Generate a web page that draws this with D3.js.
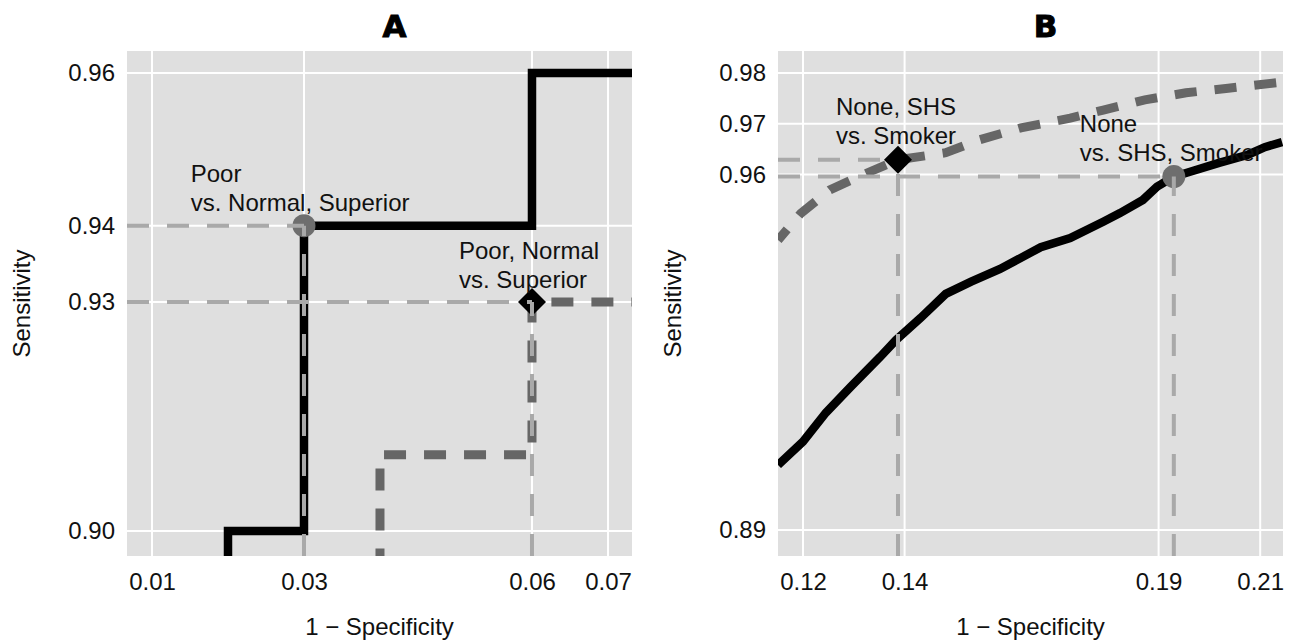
<!DOCTYPE html>
<html>
<head>
<meta charset="utf-8">
<script src="https://cdn.jsdelivr.net/npm/d3@7"></script>
<style>
  body { margin: 0; background: #fff; }
  svg { display: block; }
  text { font-family: "Liberation Sans", Arial, sans-serif; fill: #111; }
</style>
</head>
<body>
<svg id="chart"></svg>
<script>
// ---- data: panel A (perceived oral health) ----
const aTicksX = [0.01, 0.03, 0.06, 0.07];
const aTicksY = [0.90, 0.93, 0.94, 0.96];
const aSolidFpr = [0.02, 0.02, 0.03, 0.03, 0.06, 0.06, 0.08];
const aSolidTpr = [0.88, 0.90, 0.90, 0.94, 0.94, 0.96, 0.96];
const aDashFpr = [0.04, 0.04, 0.06, 0.06, 0.08];
const aDashTpr = [0.88, 0.91, 0.91, 0.93, 0.93];
const aCircle = [0.03, 0.94];
const aDiamond = [0.06, 0.93];
const aLabelText = [["Poor", "vs. Normal, Superior"], ["Poor, Normal", "vs. Superior"]];
const aLabelPos = [[0.0151, 0.9457], [0.0504, 0.9357]];

// ---- data: panel B (smoking status) ----
const bTicksX = [0.12, 0.14, 0.19, 0.21];
const bTicksY = [0.89, 0.96, 0.97, 0.98];
const bSolidFpr = [0.1151, 0.1200, 0.1245, 0.1294, 0.1352, 0.1383, 0.1432, 0.1481, 0.1531, 0.1588,
  0.1668, 0.1726, 0.1791, 0.1824, 0.1869, 0.1897, 0.1930, 0.1954, 0.2019, 0.2076, 0.2109, 0.2143];
const bSolidTpr = [0.9028, 0.9074, 0.9131, 0.9182, 0.9241, 0.9274, 0.9318, 0.9365, 0.9389, 0.9414,
  0.9457, 0.9475, 0.9507, 0.9524, 0.9550, 0.9576, 0.9596, 0.9603, 0.9623, 0.9639, 0.9654, 0.9664];
const bDashFpr = [0.1151, 0.1196, 0.1253, 0.1326, 0.1387, 0.1481, 0.1546, 0.1629, 0.1726, 0.1791,
  0.1873, 0.1954, 0.2037, 0.2143];
const bDashTpr = [0.9471, 0.9524, 0.9570, 0.9603, 0.9629, 0.9643, 0.9668, 0.9692, 0.9711, 0.9727,
  0.9747, 0.9761, 0.9770, 0.9782];
const bCircle = [0.193, 0.9596];
const bDiamond = [0.1387, 0.9629];
const bLabelText = [["None, SHS", "vs. Smoker"], ["None", "vs. SHS, Smoker"]];
const bLabelPos = [[0.1265, 0.9717], [0.1745, 0.9684]];

// ---- layout ----
const width = 1298;
const height = 643;
const panelSize = 505;
const fontSize = 24;

const svg = d3.select('#chart')
  .attr('width', width)
  .attr('height', height);

const panels = [
  {
    id: 'A', left: 127, top: 51,
    xDomain: [0.006711, 0.07316], yDomain: [0.89672, 0.96289],
    ticksX: aTicksX, ticksY: aTicksY,
    solid: d3.zip(aSolidFpr, aSolidTpr), dash: d3.zip(aDashFpr, aDashTpr), dashOffset: 7,
    circle: aCircle, diamond: aDiamond,
    labels: aLabelText, labelPos: aLabelPos
  },
  {
    id: 'B', left: 778, top: 51,
    xDomain: [0.11508, 0.21449], yDomain: [0.88488, 0.98433],
    ticksX: bTicksX, ticksY: bTicksY,
    solid: d3.zip(bSolidFpr, bSolidTpr), dash: d3.zip(bDashFpr, bDashTpr), dashOffset: 8,
    circle: bCircle, diamond: bDiamond,
    labels: bLabelText, labelPos: bLabelPos
  }
];

panels.forEach(p => {
  const x = d3.scaleLinear().domain(p.xDomain).range([0, panelSize]);
  const y = d3.scaleLinear().domain(p.yDomain).range([panelSize, 0]);

  const g = svg.append('g')
    .attr('transform', `translate(${p.left}, ${p.top})`);

  // panel background
  g.append('rect')
    .attr('width', panelSize)
    .attr('height', panelSize)
    .attr('fill', '#dfdfdf');

  // grid lines
  g.selectAll('.gx')
    .data(p.ticksX)
    .enter()
    .append('line')
    .attr('x1', d => x(d)).attr('x2', d => x(d))
    .attr('y1', 0).attr('y2', panelSize)
    .attr('stroke', '#fff').attr('stroke-width', 2);

  g.selectAll('.gy')
    .data(p.ticksY)
    .enter()
    .append('line')
    .attr('y1', d => y(d)).attr('y2', d => y(d))
    .attr('x1', 0).attr('x2', panelSize)
    .attr('stroke', '#fff').attr('stroke-width', 2);

  // axes (labels only)
  const fmt = d3.format('.2f');
  const xAxis = g.append('g')
    .attr('transform', `translate(0, ${panelSize})`)
    .call(d3.axisBottom(x).tickValues(p.ticksX).tickFormat(fmt).tickSize(0).tickPadding(17));
  const yAxis = g.append('g')
    .call(d3.axisLeft(y).tickValues(p.ticksY).tickFormat(fmt).tickSize(0).tickPadding(12));
  [xAxis, yAxis].forEach(ax => {
    ax.select('.domain').remove();
    ax.attr('font-size', fontSize).attr('font-family', null);
    ax.selectAll('text').attr('fill', '#111');
  });

  // clip for the curves
  g.append('clipPath')
    .attr('id', 'clip' + p.id)
    .append('rect')
    .attr('width', panelSize)
    .attr('height', panelSize);

  const plot = g.append('g').attr('clip-path', `url(#clip${p.id})`);

  const line = d3.line()
    .x(d => x(d[0]))
    .y(d => y(d[1]));

  plot.append('path')
    .datum(p.dash)
    .attr('d', line)
    .attr('fill', 'none')
    .attr('stroke', '#666')
    .attr('stroke-width', 9)
    .attr('stroke-dasharray', '22,18')
    .attr('stroke-dashoffset', p.dashOffset);

  plot.append('path')
    .datum(p.solid)
    .attr('d', line)
    .attr('fill', 'none')
    .attr('stroke', '#000')
    .attr('stroke-width', 8.5)
    .attr('stroke-linejoin', 'miter');

  // points
  plot.append('circle')
    .attr('cx', x(p.circle[0]))
    .attr('cy', y(p.circle[1]))
    .attr('r', 11.5)
    .attr('fill', '#6e6e6e');

  plot.append('path')
    .attr('d', d3.symbol(d3.symbolSquare, 392)())
    .attr('transform', `translate(${x(p.diamond[0])}, ${y(p.diamond[1])}) rotate(45)`)
    .attr('fill', '#000');

  // reference lines from the axes to each point
  [p.circle, p.diamond].forEach(pt => {
    const segs = [
      [[p.xDomain[0], pt[1]], pt],
      [[pt[0], p.yDomain[0]], pt]
    ];
    segs.forEach(s => {
      plot.append('path')
        .datum(s)
        .attr('d', line)
        .attr('fill', 'none')
        .attr('stroke', '#a9a9a9')
        .attr('stroke-width', 4)
        .attr('stroke-dasharray', '22,18');
    });
  });

  // annotations
  p.labels.forEach((lines, i) => {
    const t = g.append('text')
      .attr('x', x(p.labelPos[i][0]))
      .attr('y', y(p.labelPos[i][1]))
      .attr('font-size', fontSize);
    lines.forEach((s, j) => {
      t.append('tspan')
        .attr('x', x(p.labelPos[i][0]))
        .attr('dy', j === 0 ? 0 : 29)
        .text(s);
    });
  });

  // axis titles
  g.append('text')
    .attr('x', panelSize / 2)
    .attr('y', panelSize + 79)
    .attr('text-anchor', 'middle')
    .attr('font-size', fontSize)
    .text('1 \u2212 Specificity');

  g.append('text')
    .attr('transform', `translate(-97, ${panelSize / 2}) rotate(-90)`)
    .attr('text-anchor', 'middle')
    .attr('font-size', fontSize)
    .text('Sensitivity');

  // panel title
  g.append('text')
    .attr('x', panelSize / 2 + 15)
    .attr('y', -14)
    .attr('text-anchor', 'middle')
    .attr('font-size', 31)
    .attr('font-weight', 'bold')
    .attr('stroke', '#000')
    .attr('stroke-width', 1)
    .style('font-family', '"DejaVu Sans", sans-serif')
    .style('fill', '#000')
    .text(p.id);
});
</script>
</body>
</html>
